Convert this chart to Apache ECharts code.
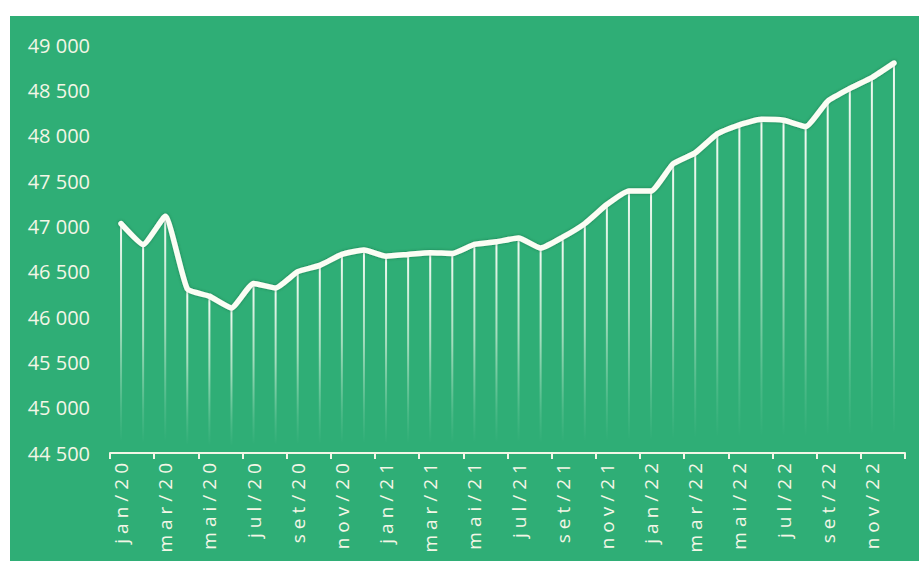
<!DOCTYPE html>
<html>
<head>
<meta charset="utf-8">
<script src="https://cdn.jsdelivr.net/npm/echarts@6/dist/echarts.min.js"></script>
<style>
  html, body { margin: 0; padding: 0; background: #ffffff; }
  #wrap { position: absolute; left: 10px; top: 16px; width: 909px; height: 545px; background: #2fae76; }
  #chart { position: absolute; left: -10px; top: -16px; width: 919px; height: 561px; }
</style>
</head>
<body>
<div id="wrap"><div id="chart"></div></div>
<script>
// Monthly series, jan/2020 to dez/2022
const months = ['jan', 'fev', 'mar', 'abr', 'mai', 'jun', 'jul', 'ago', 'set', 'out', 'nov', 'dez'];
const years = ['20', '21', '22'];
const categories = [];
years.forEach(y => months.forEach(m => categories.push(m + '/' + y)));

const values = [
  47030, 46800, 47110, 46310, 46230, 46100, 46370, 46320, 46500, 46570, 46690, 46740,
  46670, 46690, 46710, 46700, 46800, 46830, 46870, 46760, 46880, 47030, 47240, 47390,
  47390, 47690, 47810, 48020, 48120, 48180, 48170, 48100, 48380, 48520, 48640, 48800
];

const yMin = 44500;
const yMax = 49000;
const yStep = 500;

const textColor = '#f3f6e6';

const chart = echarts.init(document.getElementById('chart'), null, { renderer: 'svg' });

chart.setOption({
  animation: false,
  backgroundColor: 'transparent',
  grid: { left: 110, right: 14, top: 45, bottom: 108, containLabel: false },
  xAxis: {
    type: 'category',
    data: categories,
    boundaryGap: true,
    axisLine: { lineStyle: { color: textColor, width: 2 } },
    axisTick: { show: true, interval: 1, length: 6, lineStyle: { color: textColor, width: 2 } },
    axisLabel: {
      interval: 1,
      rotate: 90,
      margin: 5,
      color: textColor,
      fontFamily: 'Open Sans',
      fontSize: 19
    },
    splitLine: { show: false }
  },
  yAxis: {
    type: 'value',
    min: yMin,
    max: yMax,
    interval: yStep,
    axisLine: { show: false },
    axisTick: { show: false },
    splitLine: { show: false },
    axisLabel: {
      margin: 20,
      color: textColor,
      fontFamily: 'Open Sans',
      fontSize: 20,
      formatter: v => String(v).replace(/\B(?=(\d{3})+(?!\d))/g, ' ')
    }
  },
  series: [
    {
      // fading drop lines under each point
      type: 'bar',
      data: values,
      barWidth: 2,
      silent: true,
      itemStyle: {
        color: {
          type: 'linear', x: 0, y: 0, x2: 0, y2: 1,
          colorStops: [
            { offset: 0, color: 'rgba(255,255,250,0.95)' },
            { offset: 0.45, color: 'rgba(240,250,235,0.6)' },
            { offset: 0.8, color: 'rgba(220,245,225,0.15)' },
            { offset: 0.95, color: 'rgba(220,245,225,0)' }
          ]
        }
      },
      z: 1
    },
    {
      type: 'line',
      data: values,
      smooth: 0.15,
      symbol: 'none',
      lineStyle: {
        color: '#fbfdf4',
        width: 5.5,
        cap: 'round',
        join: 'round',
        shadowColor: 'rgba(20,80,50,0.5)',
        shadowBlur: 3
      },
      z: 3
    }
  ]
});

// spaced-out month labels on the category axis
function spaceMonthLabels() {
  document.querySelectorAll('#chart text').forEach(t => {
    if (t.textContent.indexOf('/') >= 0) {
      t.style.letterSpacing = '5px';
    }
  });
}
chart.getZr().flush();
spaceMonthLabels();
chart.on('finished', spaceMonthLabels);
</script>
</body>
</html>
